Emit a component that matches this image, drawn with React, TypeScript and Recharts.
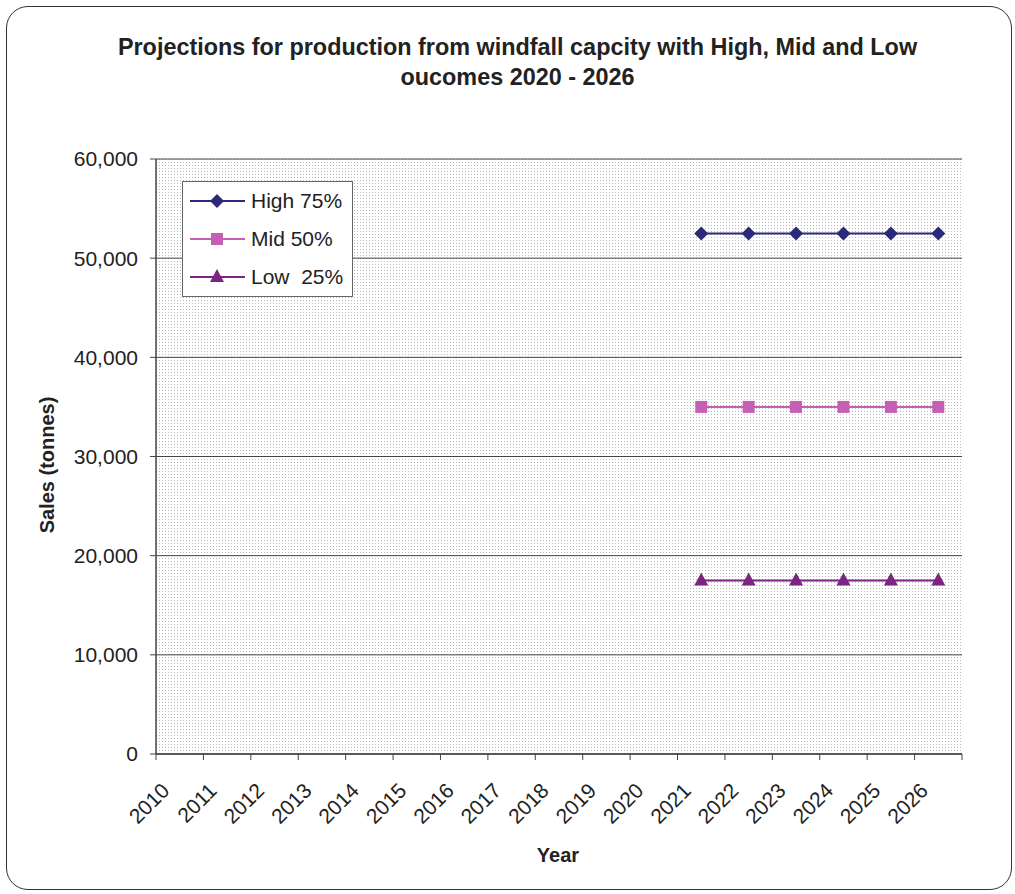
import React from 'react';
import {
  LineChart,
  Line,
  XAxis,
  YAxis,
  CartesianGrid,
  Legend,
  Label,
} from 'recharts';

const years = [
  '2010', '2011', '2012', '2013', '2014', '2015', '2016', '2017', '2018',
  '2019', '2020', '2021', '2022', '2023', '2024', '2025', '2026',
];
const high = [null, null, null, null, null, null, null, null, null, null, null, 52500, 52500, 52500, 52500, 52500, 52500];
const mid = [null, null, null, null, null, null, null, null, null, null, null, 35000, 35000, 35000, 35000, 35000, 35000];
const low = [null, null, null, null, null, null, null, null, null, null, null, 17500, 17500, 17500, 17500, 17500, 17500];
const yTicks = [0, 10000, 20000, 30000, 40000, 50000, 60000];
// category boundaries (Excel puts the x tick marks between the years)
const boundaryTicks = [
  -0.5, 0.5, 1.5, 2.5, 3.5, 4.5, 5.5, 6.5, 7.5, 8.5, 9.5, 10.5, 11.5, 12.5, 13.5, 14.5, 15.5, 16.5,
];

const series = [
  { key: 'high', name: 'High 75%', color: '#2b2a7a', shape: 'diamond' },
  { key: 'mid', name: 'Mid 50%', color: '#c45fb3', shape: 'square' },
  { key: 'low', name: 'Low  25%', color: '#7a2582', shape: 'triangle' },
];

const data = years.map((y, i) => ({ year: y, slot: i, high: high[i], mid: mid[i], low: low[i] }));

const FONT = '"Liberation Sans", Arial, sans-serif';

function Marker({ shape, cx, cy, color }: { shape: string; cx: number; cy: number; color: string }) {
  if (cx == null || cy == null) return null;
  if (shape === 'diamond') {
    const s = 7;
    return <path d={`M${cx},${cy - s} L${cx + s},${cy} L${cx},${cy + s} L${cx - s},${cy} Z`} fill={color} />;
  }
  if (shape === 'square') {
    return <rect x={cx - 6} y={cy - 6} width={12} height={12} fill={color} />;
  }
  return <path d={`M${cx},${cy - 8} L${cx + 7},${cy + 5} L${cx - 7},${cy + 5} Z`} fill={color} />;
}

function YearTick(props: any) {
  const { x, y, payload } = props;
  return (
    <g transform={`translate(${x - 9},${y + 29})`}>
      <text textAnchor="end" transform="rotate(-45)" fontSize={21} fill="#222" fontFamily={FONT}>
        {payload.value}
      </text>
    </g>
  );
}

function LegendBox() {
  return (
    <div
      style={{
        background: '#fff',
        border: '1px solid #666',
        width: 171,
        height: 116,
        boxSizing: 'border-box',
        padding: '0 0 0 6px',
        fontFamily: FONT,
        fontSize: 21,
        color: '#222',
      }}
    >
      {series.map((s) => (
        <div key={s.key} style={{ display: 'flex', alignItems: 'center', height: 38 }}>
          <svg width={58} height={20}>
            <line x1={1} x2={56} y1={10} y2={10} stroke={s.color} strokeWidth={2} />
            <Marker shape={s.shape} cx={28} cy={10} color={s.color} />
          </svg>
          <span style={{ marginLeft: 4, whiteSpace: 'pre' }}>{s.name}</span>
        </div>
      ))}
    </div>
  );
}

export default function App() {
  return (
    <div style={{ position: 'absolute', left: 0, top: 0, width: 1015, height: 894, background: '#fff' }}>
      <div
        style={{
          position: 'absolute',
          left: 6,
          top: 6,
          width: 1006,
          height: 884,
          border: '1.5px solid #333',
          borderRadius: 22,
          boxSizing: 'border-box',
        }}
      />
      <div
        style={{
          position: 'absolute',
          left: 0,
          top: 32,
          width: 1035,
          textAlign: 'center',
          fontFamily: FONT,
          fontWeight: 'bold',
          fontSize: 23.4,
          lineHeight: '30px',
          color: '#222',
        }}
      >
        Projections for production from windfall capcity with High, Mid and Low
        <br />
        oucomes 2020 - 2026
      </div>
      <LineChart
        width={1015}
        height={894}
        data={data}
        margin={{ top: 159, right: 53, bottom: 40, left: 56 }}
        style={{ position: 'absolute', left: 0, top: 0 }}
      >
        <defs>
          <pattern id="dots" width={3} height={3} patternUnits="userSpaceOnUse">
            <rect width={3} height={3} fill="#ffffff" />
            <rect width={1} height={1} fill="#b8b8b8" />
          </pattern>
        </defs>
        <CartesianGrid xAxisId="labels" vertical={false} stroke="#444" fill="url(#dots)" fillOpacity={1} />
        <XAxis
          type="number"
          dataKey="slot"
          domain={[-0.5, 16.5]}
          ticks={boundaryTicks}
          interval={0}
          tickFormatter={() => ''}
          height={1}
          axisLine={{ stroke: '#444', strokeWidth: 1.5 }}
          tickLine={{ stroke: '#444' }}
          tickSize={6}
          allowDataOverflow
        />
        <XAxis
          xAxisId="labels"
          dataKey="year"
          scale="band"
          interval={0}
          height={99}
          axisLine={false}
          tickLine={false}
          tick={<YearTick />}
        >
          <Label
            content={() => (
              <text
                x={558}
                y={862}
                textAnchor="middle"
                fontFamily={FONT}
                fontWeight="bold"
                fontSize={20}
                fill="#222"
              >
                Year
              </text>
            )}
          />
        </XAxis>
        <XAxis
          xAxisId="top"
          orientation="top"
          dataKey="year"
          height={0}
          tick={false}
          tickLine={false}
          axisLine={{ stroke: '#999', strokeWidth: 2 }}
        />
        <YAxis
          domain={[0, 60000]}
          ticks={yTicks}
          width={100}
          tickFormatter={(v: number) => v.toLocaleString('en-US')}
          tick={{ fontSize: 21, fill: '#222', fontFamily: FONT }}
          tickSize={6}
          tickMargin={12}
          axisLine={{ stroke: '#444', strokeWidth: 1.5 }}
          tickLine={{ stroke: '#444' }}
        >
          <Label
            content={() => (
              <text
                x={54}
                y={465}
                transform="rotate(-90 54 465)"
                textAnchor="middle"
                fontFamily={FONT}
                fontWeight="bold"
                fontSize={20}
                fill="#222"
              >
                Sales (tonnes)
              </text>
            )}
          />
        </YAxis>
        <YAxis
          yAxisId="right"
          orientation="right"
          domain={[0, 60000]}
          width={0}
          tick={false}
          tickLine={false}
          axisLine={{ stroke: '#999', strokeWidth: 2 }}
        />
        <Legend
          verticalAlign="middle"
          layout="horizontal"
          wrapperStyle={{ position: 'absolute', left: 182, top: 181, width: 171, height: 116 }}
          content={() => <LegendBox />}
        />
        {series.map((s) => (
          <Line
            key={s.key}
            xAxisId="labels"
            dataKey={s.key}
            name={s.name}
            stroke={s.color}
            strokeWidth={2}
            isAnimationActive={false}
            dot={(p: any) => <Marker key={`${s.key}-${p.index}`} shape={s.shape} cx={p.cx} cy={p.cy} color={s.color} />}
          />
        ))}
      </LineChart>
    </div>
  );
}
